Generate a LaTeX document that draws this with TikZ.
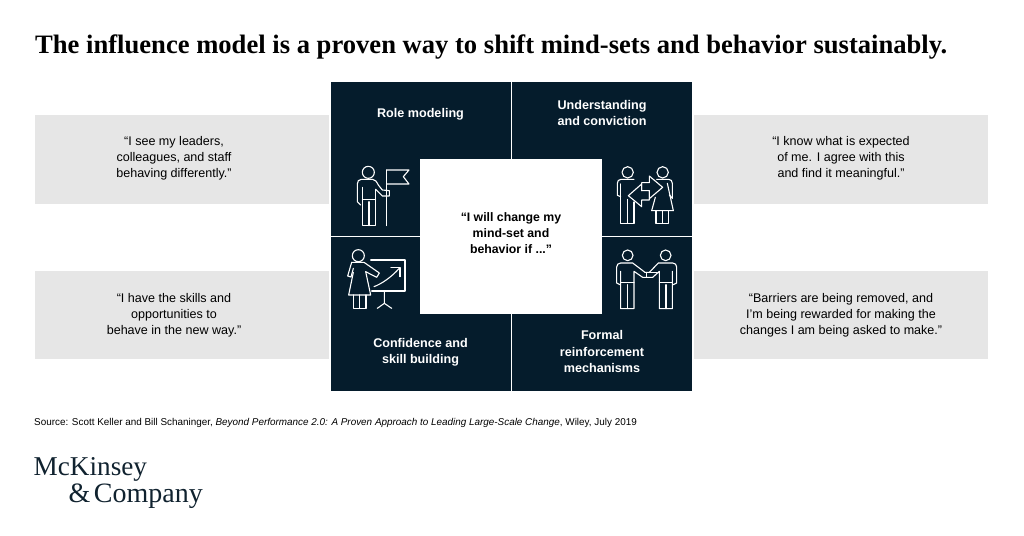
\documentclass[tikz,border=0pt]{standalone}
\usepackage{fontspec}
\setmainfont{Liberation Sans}
\newfontfamily\serifhead{Liberation Serif}
\definecolor{navy}{HTML}{051C2C}
\definecolor{panelgray}{HTML}{E6E6E6}
\definecolor{logoink}{HTML}{10222F}
\tikzset{
 quad/.style={fill=navy,draw=none},
 graybox/.style={fill=panelgray,draw=none},
 quote/.style={align=center,text=black,font=\fontsize{12.55}{16.1}\selectfont,inner sep=0pt},
 head/.style={align=center,text=white,font=\fontsize{12.6}{16.1}\selectfont\bfseries,inner sep=0pt},
 icon/.style={draw=white,line width=1.1pt,line join=round,line cap=round,fill=none},
 zoomed/.style={x=0.3333pt,y=-0.3333pt},
}
\begin{document}
\begin{tikzpicture}[x=1pt,y=-1pt]
\useasboundingbox (0,0) rectangle (1024,535);
\fill[white] (0,0) rectangle (1024,535);
\node[anchor=base west,inner sep=0pt,font=\serifhead\bfseries\fontsize{26.6}{28}\selectfont] (title) at (35,54) {The influence model is a proven way to shift mind-sets and behavior sustainably.};
% gray quote boxes
\fill[graybox] (35,115) rectangle (329,204);
\fill[graybox] (35,271) rectangle (329,359);
\fill[graybox] (694,115) rectangle (988,204);
\fill[graybox] (694,271) rectangle (988,359);
\node[quote] (q1) at (174,158.5) {“I see my leaders,\\colleagues, and staff\\behaving differently.”};
\node[quote] (q2) at (174,315) {“I have the skills and\\opportunities to\\behave in the new way.”};
\node[quote] (q3) at (841,158.5) {“I know what is expected\\of me. I agree with this\\and find it meaningful.”};
\node[quote] (q4) at (841,315) {“Barriers are being removed, and\\I’m being rewarded for making the\\changes I am being asked to make.”};
% quadrants
\fill[quad] (331,82) rectangle (510.5,235.5);
\fill[quad] (512,82) rectangle (692,235.5);
\fill[quad] (331,237) rectangle (510.5,391);
\fill[quad] (512,237) rectangle (692,391);
\fill[white] (420,158.5) rectangle (602,314);
\node[quote,font=\fontsize{12.3}{16.1}\selectfont\bfseries] (center) at (511,233) {“I will change my\\mind-set and\\behavior if ...”};
\node[head] (h1) at (420.5,114.5) {Role modeling};
\node[head] (h2) at (602,113) {Understanding\\and conviction};
\node[head] (h3) at (420.5,352.5) {Confidence and\\skill building};
\node[head] (h4) at (602,351.5) {Formal\\reinforcement\\mechanisms};
% flag person
\begin{scope}[shift={(350,160)},zoomed]
\draw[icon] (55,37) circle (18);
\draw[icon] (32,135) -- (22,125) -- (22,72) .. controls (22,64) and (26,58) .. (34,58) -- (68,58) .. controls (76,58) and (80,66) .. (85,75) -- (97,90) -- (118,92) -- (118,108) -- (97,108) -- (77,88);
\draw[icon] (37,82) -- (37,197) -- (77,197) -- (77,88);
\draw[icon] (37,118) -- (77,118);
\draw[icon] (57,125) -- (57,197);
\draw[icon] (110,30) -- (110,197);
\draw[icon] (110,30) -- (177,30) -- (160,50) -- (177,72) -- (110,72);
\end{scope}
% two people with arrows
\begin{scope}[shift={(610,160)},zoomed]
\draw[icon] (53,37) circle (17);
\draw[icon] (158,37) circle (17);
\draw[icon] (32,110) -- (22,106) -- (22,70) .. controls (22,63) and (26,58) .. (33,58) -- (72,58);
\draw[icon] (32,72) -- (32,190) -- (72,190) -- (72,126);
\draw[icon] (52,118) -- (52,190);
\draw[icon] (140,58) -- (176,58) .. controls (183,58) and (187,63) .. (187,70) -- (187,115) -- (178,105);
\draw[icon] (172,70) -- (190,152) -- (125,152) -- (136,112);
\draw[icon] (138,152) -- (138,190) -- (176,190) -- (176,152);
\draw[icon] (157,152) -- (157,190);
\draw[icon] (95,92) -- (95,68) -- (118,68) -- (118,48) -- (158,82) -- (118,116) -- (118,92) -- cycle;
\draw[icon] (95,92) -- (95,72) -- (55,107) -- (95,140) -- (95,120) -- (118,120) -- (118,92);
\end{scope}
% teacher
\begin{scope}[shift={(340,245)},zoomed]
\draw[icon] (55,32) circle (18);
\draw[icon] (35,52) -- (72,52) -- (118,84) -- (110,97) -- (77,80) -- (92,150) -- (26,150) -- (40,82);
\draw[icon] (35,52) -- (23,93) -- (33,96) -- (40,70);
\draw[icon] (40,150) -- (40,190) -- (78,190) -- (78,150);
\draw[icon] (59,150) -- (59,190);
\draw[icon] (92,45) -- (195,45) -- (195,138) -- (95,138);
\draw[icon] (102,125) .. controls (125,116) and (150,100) .. (178,70);
\draw[icon] (153,67) -- (180,67) -- (180,95);
\draw[icon] (133,138) -- (133,175) -- (112,190);
\draw[icon] (133,175) -- (155,190);
\end{scope}
% handshake
\begin{scope}[shift={(610,243)},zoomed]
\draw[icon] (53,37) circle (16);
\draw[icon] (167,37) circle (16);
\draw[icon] (30,125) -- (20,120) -- (20,72) .. controls (20,65) and (25,60) .. (32,60) -- (68,60) -- (105,88) -- (118,88) -- (145,60) -- (188,60) .. controls (195,60) and (200,65) .. (200,72) -- (200,120) -- (190,125);
\draw[icon] (105,88) -- (140,88);
\draw[icon] (32,85) -- (32,197) -- (72,197) -- (72,85) -- (98,103) -- (128,103) -- (148,85) -- (148,197) -- (187,197) -- (187,85);
\draw[icon] (110,88) -- (110,103);
\draw[icon] (32,118) -- (72,118);
\draw[icon] (148,118) -- (187,118);
\draw[icon] (52,125) -- (52,197);
\draw[icon] (168,125) -- (168,197);
\end{scope}
% source
\node[anchor=base west,inner sep=0pt,font=\fontsize{9.9}{11}\selectfont] (source) at (34,425) {Source: Scott Keller and Bill Schaninger, \textit{Beyond Performance 2.0: A Proven Approach to Leading Large-Scale Change}, Wiley, July 2019};
% logo
\node[anchor=base west,inner sep=0pt,text=logoink,font=\serifhead\fontsize{27.2}{30}\selectfont] (logo1) at (33.5,475) {McKinsey};
\node[anchor=base west,inner sep=0pt,text=logoink,font=\serifhead\fontsize{28}{30}\selectfont] (logo2) at (68.5,502) {\&\kern3.5pt Company};
\end{tikzpicture}
\end{document}
